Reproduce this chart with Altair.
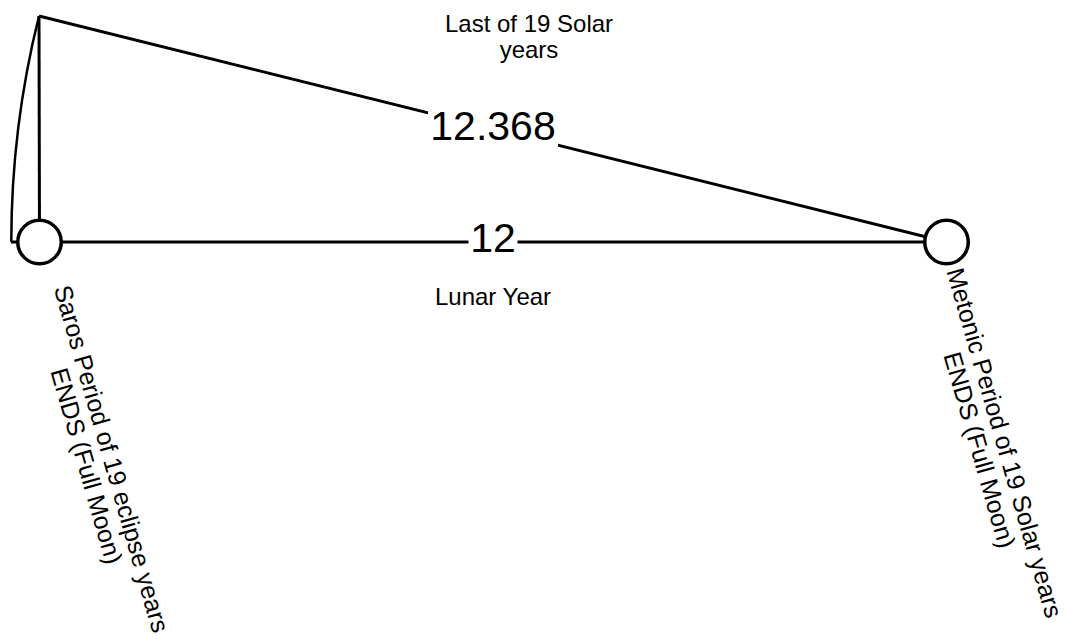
import math
import altair as alt
import pandas as pd

# ---- diagram data (reference pixel coordinates) ----
node_names = ["Saros", "Metonic", "Top", "ArcEnd"]
node_x = [39.5, 946.5, 39.0, 11.0]
node_y = [242.0, 242.0, 16.0, 242.0]

edge_from = ["Top", "ArcEnd", "Top"]
edge_to = ["Saros", "Metonic", "Metonic"]

circle_nodes = ["Saros", "Metonic"]

edge_label_text = ["12.368", "12"]
edge_label_x = [493.0, 493.0]
edge_label_y = [128.0, 240.0]
edge_label_gap_w = [130.0, 49.0]
edge_label_gap_h = [46.0, 40.0]

top_label = "Last of 19 Solar\nyears"
top_label_x = [529.0]
top_label_y = [32.0]

lunar_label = ["Lunar Year"]
lunar_label_x = [493.0]
lunar_label_y = [298.0]

rot_labels = ["Saros Period of 19 eclipse years\nENDS (Full Moon)",
              "Metonic Period of 19 Solar years\nENDS (Full Moon)"]
rot_label_x = [111.0, 1004.0]
rot_label_y = [459.0, 443.0]
rot_label_angle = [74.0, 74.0]

FONT = "Liberation Sans"
W, H = 1050, 625
X0, Y0 = 8, 8

pos = {n: (x, y) for n, x, y in zip(node_names, node_x, node_y)}

xs = alt.Scale(domain=[X0, X0 + W], nice=False, zero=False)
ys = alt.Scale(domain=[Y0, Y0 + H], nice=False, zero=False, reverse=True)

edges = pd.DataFrame({
    "x1": [pos[a][0] for a in edge_from],
    "y1": [pos[a][1] for a in edge_from],
    "x2": [pos[b][0] for b in edge_to],
    "y2": [pos[b][1] for b in edge_to],
})

lines = alt.Chart(edges).mark_rule(color="black", strokeWidth=3).encode(
    x=alt.X("x1:Q", scale=xs, axis=None),
    y=alt.Y("y1:Q", scale=ys, axis=None),
    x2="x2:Q",
    y2="y2:Q",
)

gaps = pd.DataFrame({
    "x1": [x - w / 2 for x, w in zip(edge_label_x, edge_label_gap_w)],
    "x2": [x + w / 2 for x, w in zip(edge_label_x, edge_label_gap_w)],
    "y1": [y - h / 2 for y, h in zip(edge_label_y, edge_label_gap_h)],
    "y2": [y + h / 2 for y, h in zip(edge_label_y, edge_label_gap_h)],
})
gap_rects = alt.Chart(gaps).mark_rect(color="white").encode(
    x=alt.X("x1:Q", scale=xs, axis=None),
    y=alt.Y("y1:Q", scale=ys, axis=None),
    x2="x2:Q",
    y2="y2:Q",
)

# arc centred on the Metonic node, from the arc end (left) up to the top node
cx, cy = pos["Metonic"]
tx, ty = pos["Top"]
ax_, ay_ = pos["ArcEnd"]
r = math.hypot(tx - cx, ty - cy)
th1 = math.atan2(ax_ - cx, -(ay_ - cy)) % (2 * math.pi)
th2 = math.atan2(tx - cx, -(ty - cy)) % (2 * math.pi)
arc_df = pd.DataFrame({"x": [cx], "y": [cy], "t1": [th1], "t2": [th2], "r": [r]})
arc = alt.Chart(arc_df).mark_arc(stroke="black", strokeWidth=2.5, fillOpacity=0).encode(
    x=alt.X("x:Q", scale=xs, axis=None),
    y=alt.Y("y:Q", scale=ys, axis=None),
    theta=alt.Theta("t1:Q", scale=None),
    theta2="t2:Q",
    radius=alt.Radius("r:Q", scale=None),
    radius2="r:Q",
)

circ_df = pd.DataFrame({"x": [pos[n][0] for n in circle_nodes],
                        "y": [pos[n][1] for n in circle_nodes]})
circles = alt.Chart(circ_df).mark_point(
    shape="circle", size=43.5 * 43.5, filled=False, fill="white", fillOpacity=1,
    stroke="black", strokeWidth=3.5, opacity=1,
).encode(
    x=alt.X("x:Q", scale=xs, axis=None),
    y=alt.Y("y:Q", scale=ys, axis=None),
)

el_df = pd.DataFrame({"t": edge_label_text, "x": edge_label_x, "y": edge_label_y})
edge_text = alt.Chart(el_df).mark_text(
    font=FONT, fontSize=41, color="black", align="center", baseline="middle"
).encode(
    x=alt.X("x:Q", scale=xs, axis=None),
    y=alt.Y("y:Q", scale=ys, axis=None),
    text="t:N",
)

top_df = pd.DataFrame({"t": [top_label], "x": top_label_x, "y": top_label_y})
top_text = alt.Chart(top_df).mark_text(
    font=FONT, fontSize=24, color="black", align="center", baseline="alphabetic",
    lineBreak="\n", lineHeight=26,
).encode(
    x=alt.X("x:Q", scale=xs, axis=None),
    y=alt.Y("y:Q", scale=ys, axis=None),
    text="t:N",
)

lunar_df = pd.DataFrame({"t": lunar_label, "x": lunar_label_x, "y": lunar_label_y})
lunar_text = alt.Chart(lunar_df).mark_text(
    font=FONT, fontSize=24, color="black", align="center", baseline="middle"
).encode(
    x=alt.X("x:Q", scale=xs, axis=None),
    y=alt.Y("y:Q", scale=ys, axis=None),
    text="t:N",
)

rot_df = pd.DataFrame({"t": rot_labels, "x": rot_label_x, "y": rot_label_y,
                       "a": rot_label_angle})
rot_text = alt.Chart(rot_df).mark_text(
    font=FONT, fontSize=25, color="black", align="center", baseline="middle",
    lineBreak="\n", lineHeight=26,
).encode(
    x=alt.X("x:Q", scale=xs, axis=None),
    y=alt.Y("y:Q", scale=ys, axis=None),
    text="t:N",
    angle=alt.Angle("a:Q", scale=None),
)

chart = alt.layer(
    arc, lines, gap_rects, circles, edge_text, top_text, lunar_text, rot_text
).properties(
    width=W, height=H, padding=0, autosize=alt.AutoSizeParams(type="none"),
    background="white",
).configure_view(stroke=None)

chart.save("out.html", embed_options={"renderer": "svg", "actions": False})
